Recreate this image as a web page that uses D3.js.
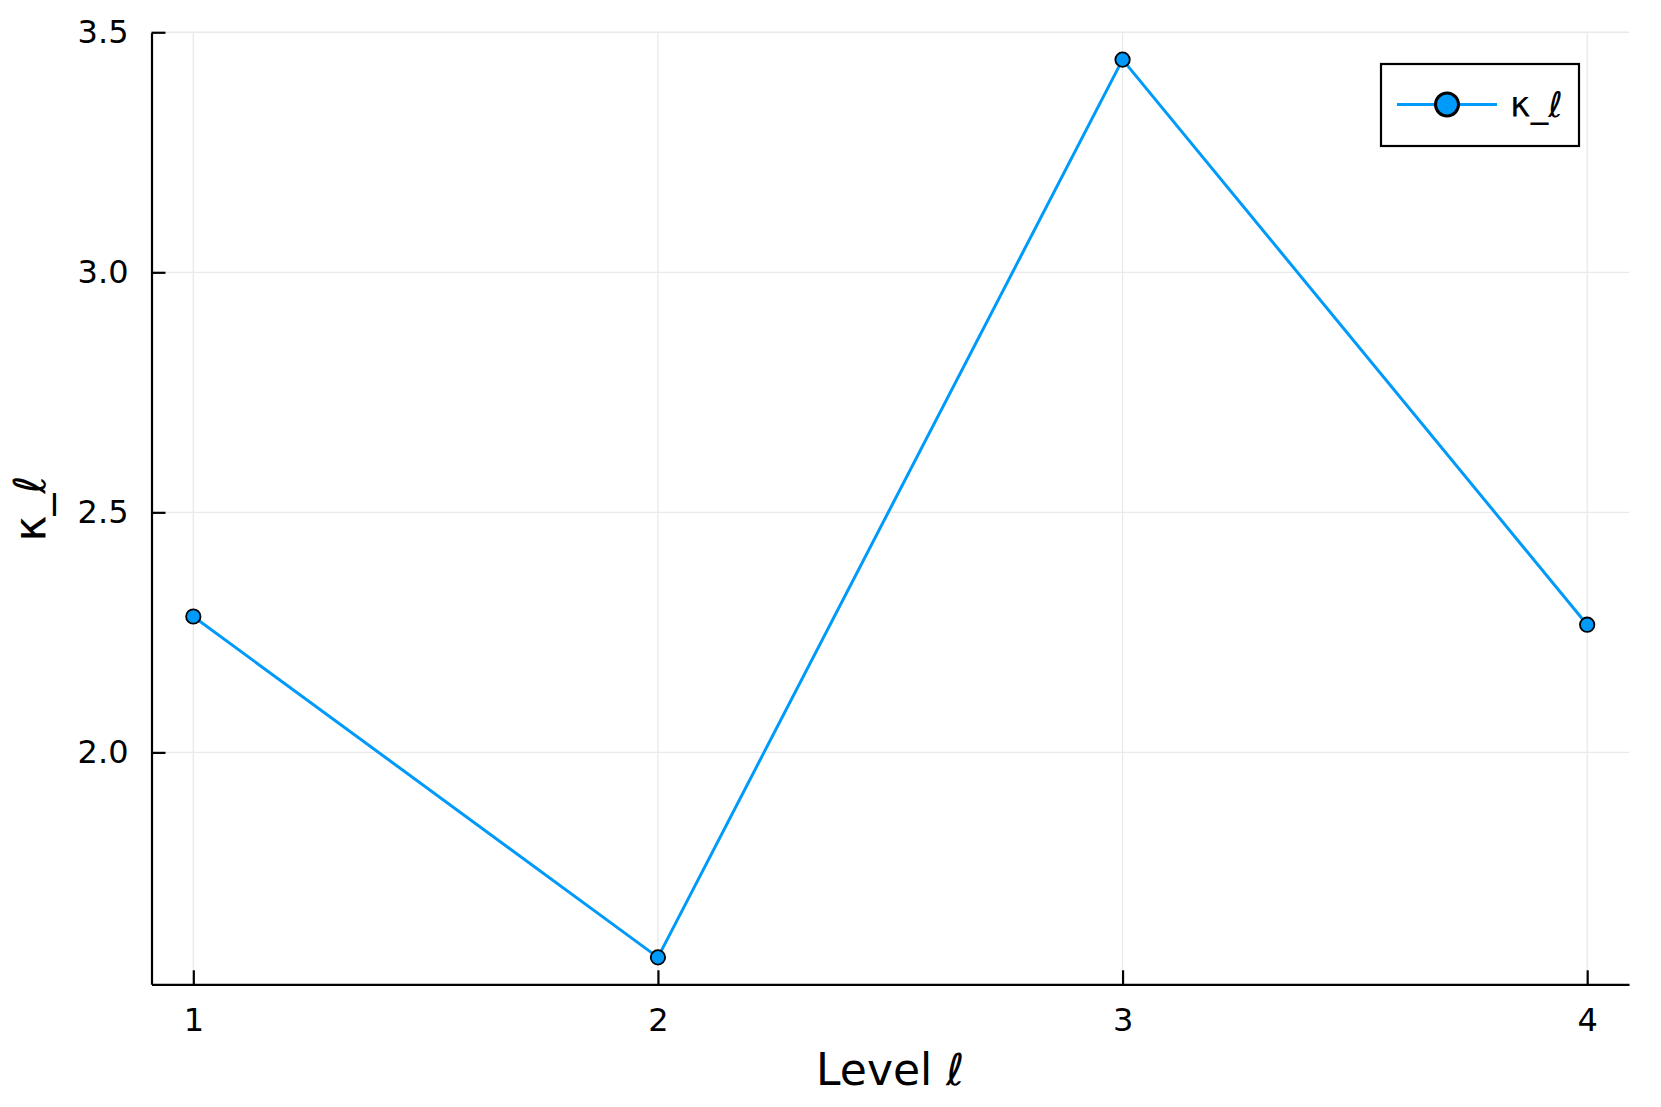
<!DOCTYPE html>
<html>
<head>
<meta charset="utf-8">
<script src="https://cdn.jsdelivr.net/npm/d3@7"></script>
<style>
  body { margin: 0; background: #fff; }
  svg { display: block; font-family: "DejaVu Sans", sans-serif; }
</style>
</head>
<body>
<div id="chart"></div>
<script>
// values
const levels = [1, 2, 3, 4];
const kappa = [2.283, 1.573, 3.443, 2.266];
const yTicks = [2.0, 2.5, 3.0, 3.5];
const xTicks = [1, 2, 3, 4];
const seriesName = "κ_ℓ";

const W = 1661, H = 1107;
const plotLeft = 151.5, plotRight = 1629, plotTop = 32.7, plotBottom = 984.3;
const lineColor = "#009afa";

const svg = d3.select("#chart").append("svg")
  .attr("width", W).attr("height", H);

// 3% padding like Plots.jl
const xPad = (d3.max(levels) - d3.min(levels)) * 0.03;
const [yMin, yMax] = d3.extent(kappa);
const yPad = (yMax - yMin) * 0.03;

const x = d3.scaleLinear()
  .domain([d3.min(levels) - xPad, d3.max(levels) + xPad])
  .range([plotLeft, plotRight]);
const y = d3.scaleLinear()
  .domain([yMin - yPad, yMax + yPad])
  .range([plotBottom, plotTop]);

// grid
const grid = svg.append("g").attr("stroke", "#e9e9e9").attr("stroke-width", 1.3);
grid.selectAll(".gx").data(xTicks).join("line")
  .attr("x1", d => x(d)).attr("x2", d => x(d))
  .attr("y1", plotTop).attr("y2", plotBottom);
grid.selectAll(".gy").data(yTicks).join("line")
  .attr("x1", plotLeft).attr("x2", plotRight)
  .attr("y1", d => y(d)).attr("y2", d => y(d));

// axes
const xAxis = d3.axisBottom(x).tickValues(xTicks).tickFormat(d3.format("d"))
  .tickSizeInner(-14).tickSizeOuter(0).tickPadding(24);
const gx = svg.append("g").attr("transform", `translate(0,${plotBottom})`).call(xAxis);
gx.select(".domain").attr("stroke", "#000").attr("stroke-width", 2.2);
gx.selectAll(".tick line").attr("stroke", "#000").attr("stroke-width", 2.2);
gx.selectAll(".tick text").attr("font-size", 32).attr("fill", "#000")
  .attr("font-family", "DejaVu Sans");

const yAxis = d3.axisLeft(y).tickValues(yTicks).tickFormat(d3.format(".1f"))
  .tickSizeInner(-14).tickSizeOuter(0).tickPadding(23);
const gy = svg.append("g").attr("transform", `translate(${plotLeft},0)`).call(yAxis);
gy.select(".domain").attr("stroke", "#000").attr("stroke-width", 2.2);
gy.selectAll(".tick line").attr("stroke", "#000").attr("stroke-width", 2.2);
gy.selectAll(".tick text").attr("font-size", 32).attr("fill", "#000")
  .attr("font-family", "DejaVu Sans");

// axis labels
svg.append("text")
  .attr("x", (plotLeft + plotRight) / 2).attr("y", 1085)
  .attr("text-anchor", "middle").attr("font-size", 44)
  .text("Level ℓ");
svg.append("text")
  .attr("transform", `translate(45,${(plotTop + plotBottom) / 2}) rotate(-90)`)
  .attr("text-anchor", "middle").attr("font-size", 44)
  .text(seriesName);

// series
const pts = levels.map((l, i) => [l, kappa[i]]);
svg.append("path")
  .datum(pts)
  .attr("fill", "none").attr("stroke", lineColor).attr("stroke-width", 3)
  .attr("d", d3.line().x(d => x(d[0])).y(d => y(d[1])));
svg.selectAll(".pt").data(pts).join("circle")
  .attr("cx", d => x(d[0])).attr("cy", d => y(d[1]))
  .attr("r", 7.2)
  .attr("fill", lineColor).attr("stroke", "#000").attr("stroke-width", 1.8);

// legend
const lg = svg.append("g");
lg.append("rect")
  .attr("x", 1381).attr("y", 64).attr("width", 198).attr("height", 82)
  .attr("fill", "#fff").attr("stroke", "#000").attr("stroke-width", 2.2);
lg.append("line")
  .attr("x1", 1397).attr("x2", 1497).attr("y1", 104.5).attr("y2", 104.5)
  .attr("stroke", lineColor).attr("stroke-width", 3);
lg.append("circle")
  .attr("cx", 1447).attr("cy", 104.5).attr("r", 11.5)
  .attr("fill", lineColor).attr("stroke", "#000").attr("stroke-width", 3);
lg.append("text")
  .attr("x", 1510).attr("y", 104.5).attr("dy", "0.35em")
  .attr("font-size", 35).text(seriesName);
</script>
</body>
</html>
